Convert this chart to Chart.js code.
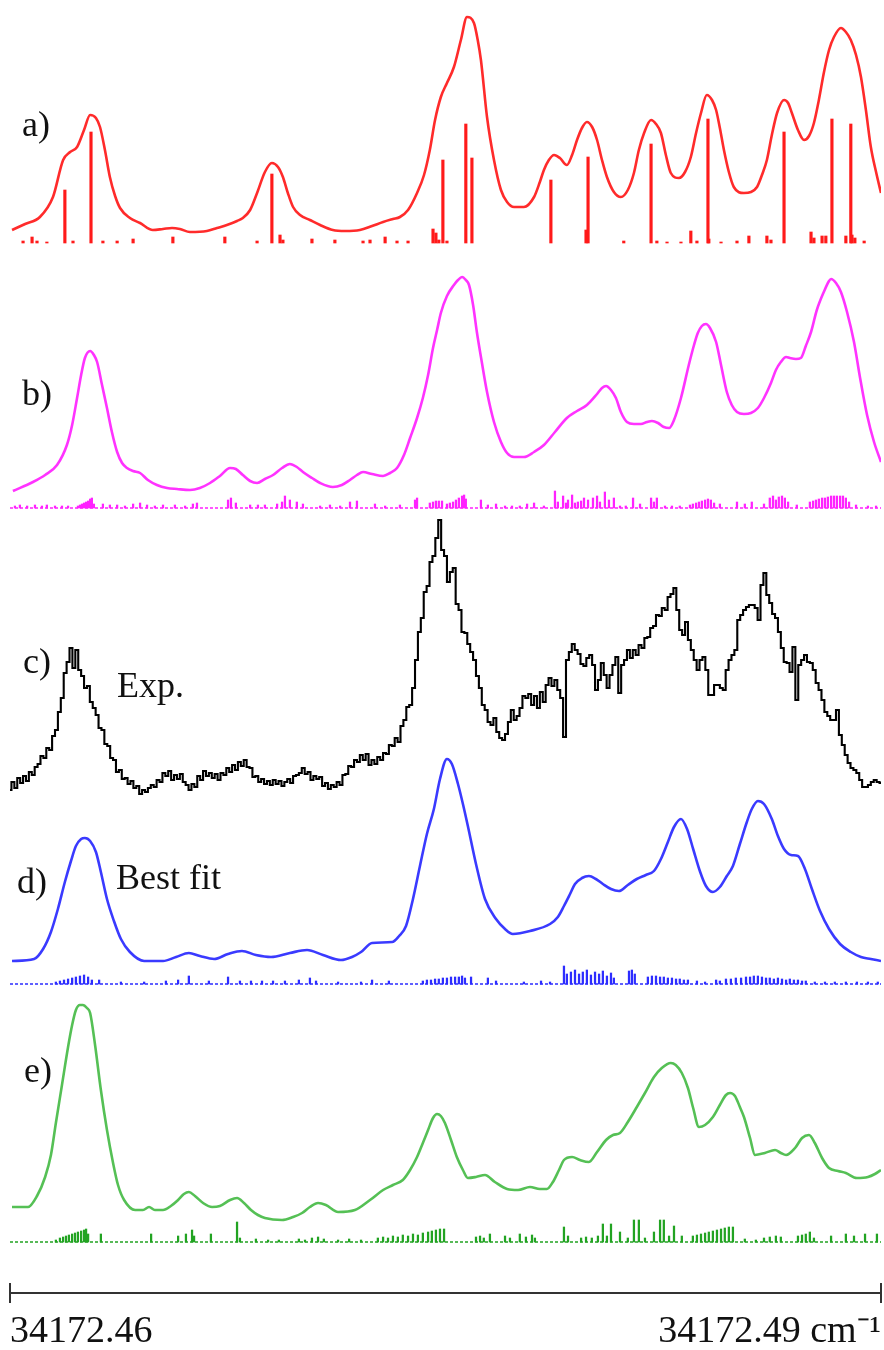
<!DOCTYPE html>
<html>
<head>
<meta charset="utf-8">
<script src="https://cdn.jsdelivr.net/npm/chart.js@4/dist/chart.umd.min.js"></script>
<style>
html,body{margin:0;padding:0;background:#fff;}
#wrap{width:884px;height:1350px;position:relative;}
</style>
</head>
<body>
<div id="wrap"><canvas id="c" width="884" height="1350"></canvas></div>
<script>
// x values: offset from 34172.46 cm-1 in units of 1e-4 cm-1 (0 .. 300)
const X0 = 34172.46;
const XSTEP = 1e-4;
const XMAX = 300;
const xTickValues = [0, 300];
const xUnit = ' cm\u207B\u00B9';

const panelLabels = ['a)', 'b)', 'c)', 'd)', 'e)'];
const traceNames = ['Exp.', 'Best fit'];

// a) simulated spectrum  [x, intensity]
const aCurve = [[0.7,13],[5.2,19],[10.3,26],[14.8,46],[18.3,83],[20.7,91],[23.1,96],[25.5,113],[27.6,128],[29.6,125],[31.0,116],[32.7,93],[34.4,66],[36.2,47],[37.9,35],[41.3,25],[44.8,20],[49.2,13],[52.7,14],[55.8,15],[58.5,14],[62.0,11],[67.8,12],[71.3,15],[74.7,18],[78.2,22],[80.2,25],[82.7,33],[85.1,50],[87.8,71],[90.2,80],[92.3,76],[94.0,66],[95.7,50],[97.5,36],[99.9,28],[103.3,23],[106.8,18],[111.2,13],[115.4,12],[120.5,13],[124.7,17],[128.5,21],[131.9,24],[134.3,26],[137.1,33],[140.2,50],[142.6,68],[144.6,93],[146.4,123],[148.4,146],[150.5,160],[152.9,176],[155.3,203],[157.4,226],[159.8,220],[161.1,203],[162.2,183],[164.3,126],[166.7,83],[169.1,53],[171.2,41],[173.6,36],[177.0,36],[180.5,46],[182.5,61],[183.9,73],[185.6,83],[187.4,88],[189.4,85],[191.8,78],[193.6,88],[195.3,103],[197.0,115],[198.7,121],[200.5,116],[202.2,103],[203.9,83],[205.6,66],[208.0,51],[210.4,46],[212.8,53],[214.9,70],[216.6,93],[218.4,110],[220.8,123],[222.5,119],[224.2,110],[225.9,88],[227.6,70],[230.4,65],[232.5,71],[234.5,86],[236.3,110],[238.0,130],[240.0,148],[241.8,143],[243.2,133],[244.5,115],[245.9,93],[247.6,71],[249.3,56],[252.8,50],[255.2,51],[257.3,56],[259.0,68],[260.7,83],[262.4,108],[264.2,130],[266.6,143],[268.0,140],[269.3,130],[271.4,113],[273.5,103],[275.2,107],[276.9,120],[278.6,143],[280.3,170],[282.1,193],[283.8,206],[286.2,215],[287.9,211],[289.6,203],[291.4,188],[293.1,166],[294.8,133],[296.5,96],[298.3,71],[300.0,50]];
const aSticks = [[18.9,53],[27.9,111],[90.2,69],[149.1,83],[157.0,119],[159.1,85],[186.3,63],[199.1,86],[220.8,99],[240.4,124],[266.6,111],[283.1,124],[289.6,119],
[4.5,2],[7.6,6],[9.3,2],[12.7,1],[21.7,2],[32.0,2],[36.9,2],[42.4,4],[56.1,6],[74.0,6],[85.1,2],[93.0,8],[94.0,3],[104.0,4],[111.9,3],[121.6,2],[124.0,3],[129.2,6],[133.3,2],[137.1,2],[145.7,14],[146.7,10],[147.7,3],[150.5,2],[198.4,13],[211.4,2],[222.8,2],[226.3,1],[231.1,1],[234.5,12],[236.6,2],[240.7,4],[244.9,1],[250.4,2],[254.5,7],[260.7,7],[262.1,3],[275.9,11],[276.9,5],[279.7,7],[281.0,7],[287.9,7],[290.0,8],[291.0,5],[294.2,2]];

// b) simulated spectrum
const bCurve = [[1.0,17],[7.9,26],[12.1,33],[16.2,43],[19.6,63],[21.4,83],[23.1,110],[24.5,133],[25.8,150],[27.6,157],[28.9,153],[30.0,146],[31.7,123],[33.4,100],[35.1,76],[36.9,56],[38.6,45],[40.3,40],[42.4,37],[44.8,35],[47.5,28],[50.6,23],[54.1,20],[57.5,19],[62.0,18],[65.4,20],[68.9,25],[72.3,32],[75.8,40],[77.8,39],[80.2,33],[82.7,27],[85.1,25],[87.8,29],[90.6,33],[93.7,40],[96.4,44],[98.8,41],[100.9,36],[104.0,30],[106.8,25],[111.2,21],[114.3,23],[117.1,28],[119.5,33],[121.6,36],[124.7,34],[128.5,32],[130.9,35],[133.3,40],[135.7,53],[137.8,70],[140.2,90],[142.2,110],[144.0,133],[145.7,160],[147.1,178],[148.4,195],[150.5,212],[152.9,223],[154.3,228],[155.7,231],[157.0,228],[158.1,223],[159.5,203],[160.8,176],[162.5,146],[164.3,116],[166.7,86],[169.1,66],[171.2,55],[173.6,51],[177.0,51],[180.5,56],[183.9,63],[187.7,76],[191.8,90],[195.3,97],[198.7,103],[202.2,114],[203.9,120],[205.3,122],[207.0,118],[208.7,110],[210.4,96],[212.5,86],[214.9,84],[217.3,84],[219.4,86],[221.1,87],[223.2,85],[225.2,81],[227.0,80],[228.7,88],[231.1,110],[233.8,143],[235.6,163],[236.9,175],[238.3,182],[239.7,184],[241.1,180],[243.2,166],[244.9,143],[246.9,116],[248.6,103],[250.4,96],[252.8,94],[255.2,95],[257.6,100],[259.7,110],[262.1,125],[263.8,138],[265.5,146],[267.3,151],[268.6,150],[270.7,149],[272.4,150],[274.1,162],[275.9,176],[277.9,198],[280.3,216],[282.1,227],[282.8,229],[284.5,225],[286.2,216],[288.3,196],[290.7,166],[292.8,130],[295.2,93],[297.6,66],[300.0,46]];
const bSticks = [[1.7,2],[3.4,3],[5.9,2],[8.6,3],[11.0,2],[12.7,3],[15.5,2],[17.9,2],[20.0,2],[23.4,2],[24.1,3],[24.8,4],[25.5,5],[26.2,6],[26.9,7],[27.6,9],[28.2,10],[28.9,4],[32.0,4],[34.4,3],[36.9,3],[39.6,2],[42.4,4],[44.8,5],[47.2,3],[49.9,2],[52.7,3],[56.8,3],[60.3,2],[63.0,4],[64.4,5],[75.1,8],[76.1,10],[77.8,5],[82.7,3],[85.4,3],[87.8,3],[92.0,4],[93.7,6],[94.7,12],[96.4,8],[98.8,6],[100.9,4],[106.8,2],[110.2,3],[113.7,2],[117.1,6],[119.5,7],[125.7,4],[129.2,2],[134.3,3],[139.5,8],[140.2,10],[144.6,5],[145.7,6],[146.7,7],[147.7,7],[148.8,7],[150.5,4],[151.5,5],[152.6,6],[153.6,8],[154.6,10],[155.7,12],[156.4,13],[157.0,9],[162.2,8],[164.6,3],[167.4,4],[170.5,2],[172.9,2],[175.6,2],[178.1,4],[180.5,5],[183.9,2],[187.7,17],[188.7,6],[190.5,12],[191.5,5],[192.2,8],[193.6,13],[194.6,5],[195.6,6],[196.7,7],[197.7,10],[199.1,8],[200.8,10],[202.2,12],[203.2,6],[204.9,16],[206.3,8],[208.0,10],[210.1,2],[212.1,2],[214.6,10],[217.0,4],[220.8,10],[221.8,6],[222.8,10],[225.6,2],[228.0,2],[230.7,2],[234.2,3],[235.2,4],[236.3,5],[237.3,6],[238.3,7],[239.4,8],[240.4,9],[241.4,8],[242.5,5],[244.5,4],[250.4,6],[253.1,4],[255.5,6],[259.7,4],[261.7,10],[262.8,12],[263.8,8],[264.8,11],[265.9,12],[266.9,10],[268.0,6],[271.0,3],[275.5,6],[276.6,7],[277.6,8],[278.6,9],[279.7,10],[280.7,10],[281.7,11],[282.8,12],[283.8,12],[284.8,12],[285.9,12],[286.9,12],[287.9,10],[289.0,6],[291.4,3],[295.5,2],[298.3,2]];

// c) experimental spectrum, one value per x step (x = 0 .. 300)
const expValues = [10,18,12,22,17,24,19,28,25,33,
36,44,42,52,50,64,70,88,102,127,
138,152,132,150,130,124,112,114,98,92,
85,72,70,56,54,42,40,28,30,21,
22,16,19,12,14,6,10,8,12,15,
13,20,18,27,24,29,20,25,21,26,
18,15,10,16,13,24,20,29,24,27,
22,26,20,27,25,32,28,35,30,38,
34,40,33,32,23,24,18,21,16,19,
15,20,16,19,14,18,21,17,24,25,
27,32,26,28,20,24,21,23,14,17,
11,15,13,18,15,25,26,34,33,40,
38,45,40,46,35,40,36,43,40,47,
46,55,54,62,58,74,80,93,95,112,
140,168,182,208,214,238,244,262,280,250,
244,218,228,232,196,190,168,167,156,148,
140,124,112,95,90,78,75,82,68,62,
60,66,78,90,80,84,92,104,102,106,
95,104,92,108,98,115,122,114,120,110,
102,63,140,148,156,150,146,136,134,142,
145,135,110,120,137,125,112,125,135,143,
107,135,140,150,142,150,145,155,152,162,
163,172,174,185,184,192,190,203,206,212,
190,170,165,178,160,150,140,130,140,143,
130,105,105,115,115,112,110,130,140,145,
150,180,185,190,193,195,195,192,180,215,
227,205,197,186,182,168,152,138,137,128,
153,100,135,140,145,138,137,130,117,110,
100,88,84,80,80,90,65,55,45,37,
32,30,27,20,13,13,15,18,20,18,17];

// d) best fit
const dCurve = [[0.7,23],[8.3,25],[11.4,35],[14.1,52],[16.5,75],[18.9,102],[21.0,123],[22.7,138],[24.5,145],[25.8,146],[27.6,143],[29.6,132],[31.3,112],[33.4,85],[35.8,63],[38.2,45],[41.3,32],[46.2,23],[52.7,23],[57.2,27],[61.6,31],[65.4,28],[70.3,25],[75.1,30],[79.9,33],[84.7,29],[89.9,27],[96.4,31],[102.3,34],[107.8,29],[114.0,24],[117.8,27],[120.9,32],[124.7,41],[131.6,42],[134.0,48],[136.4,58],[138.8,85],[141.2,118],[143.6,150],[146.0,175],[148.1,205],[150.5,225],[152.2,220],[154.3,200],[156.0,180],[157.7,158],[160.5,120],[163.6,85],[167.4,65],[170.5,55],[173.2,50],[179.1,53],[186.0,60],[188.7,67],[190.8,78],[192.9,90],[194.6,100],[197.0,106],[199.4,108],[201.8,105],[204.2,100],[207.0,95],[209.7,93],[212.8,99],[215.9,105],[219.0,109],[221.8,113],[224.2,125],[226.6,142],[228.7,157],[231.1,165],[233.2,155],[235.3,135],[237.6,113],[239.7,98],[242.1,92],[244.5,97],[246.9,108],[249.0,118],[251.4,140],[253.8,162],[255.5,175],[257.6,183],[259.7,180],[262.4,165],[264.5,148],[266.6,135],[269.0,129],[271.4,128],[273.8,115],[276.2,95],[279.0,73],[282.1,55],[285.9,40],[289.6,32],[293.1,27],[296.5,25],[300.0,23]];
const dSticks = [[15.8,2],[17.2,3],[18.6,4],[20.0,5],[21.4,6],[22.7,7],[24.1,8],[25.5,9],[26.9,7],[28.2,4],[30.7,4],[38.2,2],[46.2,2],[53.7,3],[57.9,4],[61.6,8],[68.5,3],[75.1,7],[79.2,3],[83.0,3],[86.8,3],[90.6,3],[94.7,3],[99.5,4],[103.3,6],[105.4,3],[113.0,2],[120.9,2],[124.7,4],[130.5,3],[142.2,3],[143.6,4],[145.0,4],[146.4,5],[147.7,5],[149.1,6],[150.5,6],[151.9,7],[153.3,7],[154.6,7],[155.7,8],[156.7,6],[158.8,7],[164.6,6],[167.4,3],[177.0,2],[182.9,3],[186.0,2],[190.8,18],[191.8,10],[193.2,12],[194.6,14],[196.0,10],[197.3,12],[198.7,14],[200.1,9],[201.5,12],[202.9,10],[204.2,13],[205.6,8],[207.0,11],[208.0,6],[213.2,13],[214.2,14],[215.2,10],[219.7,7],[221.1,8],[222.5,8],[223.9,7],[225.2,7],[226.6,6],[228.0,6],[229.4,5],[230.7,5],[232.1,4],[233.5,4],[236.6,3],[239.4,2],[243.2,4],[244.5,3],[246.6,5],[248.3,5],[250.0,6],[251.8,6],[253.5,7],[254.9,7],[256.2,8],[257.6,8],[259.0,7],[260.4,6],[261.7,6],[263.1,5],[264.5,6],[265.9,5],[267.3,4],[268.6,5],[270.0,4],[271.4,4],[272.8,3],[274.1,3],[277.2,2],[280.7,2],[284.1,2],[287.9,2],[291.7,2],[295.5,2],[298.9,2]];

// e) alternative simulation
const eCurve = [[0.7,35],[6.2,35],[9.3,46],[12.1,65],[14.1,87],[15.8,119],[17.9,157],[20.0,195],[21.4,217],[22.7,232],[24.1,237],[25.1,237],[26.5,234],[27.6,229],[29.3,197],[31.3,152],[33.4,112],[35.5,79],[37.2,57],[39.3,42],[43.1,32],[45.8,32],[47.9,35],[49.9,32],[52.7,32],[55.4,36],[57.9,42],[59.9,48],[61.6,50],[63.7,46],[66.5,39],[69.6,35],[72.3,36],[75.8,42],[78.2,44],[80.6,39],[83.0,32],[85.4,27],[87.8,24],[93.7,22],[97.5,25],[100.6,29],[103.3,35],[106.1,39],[108.8,37],[113.0,30],[118.8,32],[124.0,42],[128.5,52],[131.9,57],[135.3,62],[137.8,72],[140.2,85],[142.2,99],[144.0,112],[145.7,124],[147.1,128],[148.4,126],[149.8,119],[151.9,102],[153.9,85],[156.0,72],[157.7,64],[160.5,65],[163.6,67],[167.0,60],[171.2,53],[175.0,52],[179.1,55],[182.5,53],[184.9,53],[187.0,60],[189.1,72],[190.8,82],[193.6,85],[196.3,82],[199.4,80],[202.2,90],[205.3,102],[207.7,107],[210.1,109],[212.8,120],[215.9,135],[218.7,149],[221.8,165],[224.5,174],[227.6,179],[229.3,177],[231.4,169],[233.5,154],[235.3,134],[237.3,115],[239.4,117],[242.1,125],[244.5,137],[246.6,147],[248.0,149],[249.7,146],[251.4,135],[252.8,125],[254.9,104],[256.6,87],[260.0,89],[263.5,92],[265.5,89],[267.3,87],[270.4,94],[272.8,104],[275.2,107],[277.2,99],[279.7,84],[282.1,74],[285.2,71],[287.9,69],[291.7,64],[295.5,65],[297.9,68],[300.0,72]];
const eSticks = [[15.8,2],[17.2,4],[18.3,5],[19.3,6],[20.3,7],[21.4,8],[22.4,9],[23.4,10],[24.5,11],[25.5,12],[26.2,13],[26.9,8],[31.3,8],[48.6,8],[57.9,6],[60.6,8],[62.7,12],[63.4,6],[69.2,8],[78.2,20],[79.2,4],[84.7,3],[88.9,2],[92.6,2],[99.5,3],[101.6,2],[104.0,4],[106.1,5],[108.1,3],[113.0,2],[116.8,3],[120.9,2],[126.7,4],[128.5,5],[130.2,4],[131.9,6],[133.6,5],[135.3,7],[137.1,6],[138.8,8],[140.5,7],[142.2,9],[144.0,10],[145.3,11],[146.7,12],[148.1,13],[149.5,13],[160.5,5],[161.9,6],[163.2,4],[165.3,8],[170.5,6],[172.2,4],[175.6,8],[177.7,5],[179.8,7],[180.8,4],[190.8,15],[192.2,6],[196.7,4],[198.4,5],[200.4,4],[202.5,6],[204.2,18],[205.6,6],[207.0,18],[210.1,10],[212.8,4],[214.9,22],[216.6,22],[218.7,4],[221.8,10],[223.9,22],[225.2,22],[227.0,6],[228.7,16],[231.4,6],[235.2,6],[236.6,7],[238.0,8],[239.4,9],[240.7,10],[242.1,11],[243.5,12],[244.9,13],[246.2,14],[247.6,15],[249.0,15],[253.1,3],[256.9,2],[259.7,4],[261.7,5],[263.8,6],[265.5,5],[271.4,6],[272.8,7],[274.1,8],[275.5,10],[276.9,4],[282.8,6],[287.9,8],[290.7,6],[294.5,8],[298.6,8]];

// ---------- layout (pixels) ----------
const W = 884, HTOT = 1350, AXIS_H = 57;
const AREA_H = HTOT - AXIS_H;              // chart area height (top = 0)
const baselinePx = {a: 243, b: 508, c: 800, d: 984, e: 1242};
const labelPos = [[22,136],[22,405],[23,673],[17,893],[24,1082]];
const namePos = [[117,697],[116,889]];

const colors = {
  a: {line: '#ff2b2b', stick: '#ff1a1a'},
  b: {line: '#ff33ff', stick: '#ff22ff'},
  c: {line: '#000000'},
  d: {line: '#3a3aff', stick: '#2d2dff'},
  e: {line: '#55c055', stick: '#22a322'}
};

const pts = arr => arr.map(([x, y]) => ({x, y}));
const yAxis = b => ({type: 'linear', display: false, min: b - AREA_H, max: b});

function curve(id, arr, color, extra) {
  return Object.assign({type: 'line', yAxisID: 'y' + id, data: pts(arr), borderColor: color,
    borderWidth: 2.6, pointRadius: 0, fill: false, cubicInterpolationMode: 'monotone'}, extra || {});
}
function sticks(id, arr, color, thick) {
  return {type: 'bar', yAxisID: 'y' + id, data: pts(arr), backgroundColor: color, borderWidth: 0,
    barThickness: thick, grouped: false};
}
function baseline(id, color) {
  return {type: 'line', yAxisID: 'y' + id, data: [{x: 0, y: 0}, {x: XMAX, y: 0}], borderColor: color,
    borderWidth: 1.3, borderDash: [3, 2], pointRadius: 0, fill: false};
}

const annot = {
  id: 'annot',
  afterDraw(chart) {
    const {ctx, chartArea, scales} = chart;
    const x = scales.x;
    ctx.save();
    ctx.strokeStyle = '#333';
    ctx.lineWidth = 2;
    xTickValues.forEach(v => {
      const px = x.getPixelForValue(v);
      ctx.beginPath();
      ctx.moveTo(px, chartArea.bottom - 10);
      ctx.lineTo(px, chartArea.bottom + 10);
      ctx.stroke();
    });
    ctx.fillStyle = '#111';
    ctx.font = '36px "Liberation Serif", serif';
    ctx.textBaseline = 'alphabetic';
    ctx.textAlign = 'left';
    panelLabels.forEach((t, i) => ctx.fillText(t, labelPos[i][0], labelPos[i][1]));
    traceNames.forEach((t, i) => ctx.fillText(t, namePos[i][0], namePos[i][1]));
    ctx.restore();
  }
};

new Chart(document.getElementById('c'), {
  type: 'line',
  data: {
    datasets: [
      curve('a', aCurve, colors.a.line),
      sticks('a', aSticks, colors.a.stick, 2.5),
      curve('b', bCurve, colors.b.line),
      sticks('b', bSticks, colors.b.stick, 1.6),
      baseline('b', colors.b.stick),
      {type: 'line', yAxisID: 'yc', data: expValues.map((y, i) => ({x: i, y})), borderColor: colors.c.line,
        borderWidth: 2.1, pointRadius: 0, fill: false, stepped: 'middle'},
      curve('d', dCurve, colors.d.line),
      sticks('d', dSticks, colors.d.stick, 1.6),
      baseline('d', colors.d.stick),
      curve('e', eCurve, colors.e.line),
      sticks('e', eSticks, colors.e.stick, 1.6),
      baseline('e', colors.e.stick)
    ]
  },
  options: {
    responsive: false,
    devicePixelRatio: 1,
    animation: false,
    layout: {padding: {left: 10, right: 3, top: 0, bottom: 0}},
    plugins: {legend: {display: false}, tooltip: {enabled: false}},
    scales: {
      x: {
        type: 'linear', position: 'bottom', min: 0, max: XMAX, offset: false,
        afterBuildTicks: s => { s.ticks = xTickValues.map(v => ({value: v})); },
        afterFit: s => { s.height = AXIS_H; s.paddingLeft = 0; s.paddingRight = 0; },
        grid: {display: false, offset: false},
        border: {display: true, color: '#333', width: 2},
        ticks: {
          align: 'inner', autoSkip: false, maxRotation: 0, padding: 8, color: '#111',
          font: {family: '"Liberation Serif", serif', size: 38},
          callback: v => (X0 + v * XSTEP).toFixed(2) + (v >= XMAX ? xUnit : '')
        }
      },
      ya: yAxis(baselinePx.a),
      yb: yAxis(baselinePx.b),
      yc: yAxis(baselinePx.c),
      yd: yAxis(baselinePx.d),
      ye: yAxis(baselinePx.e)
    }
  },
  plugins: [annot]
});
</script>
</body>
</html>
